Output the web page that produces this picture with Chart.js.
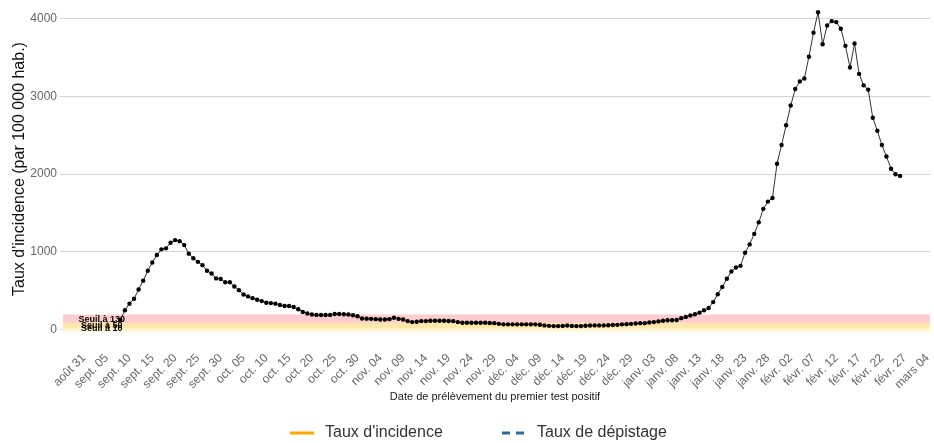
<!DOCTYPE html>
<html>
<head>
<meta charset="utf-8">
<script src="https://cdn.jsdelivr.net/npm/chart.js@4.4.1/dist/chart.umd.min.js"></script>
<style>
  body { margin: 0; background: #fff; }
  canvas { display: block; }
</style>
</head>
<body>
<canvas id="chart-1" width="934" height="443"></canvas>
<script>
// x axis: days counted from 31 Aug 2020, one tick every 5 days
const tickLabels = ['août 31', 'sept. 05', 'sept. 10', 'sept. 15', 'sept. 20', 'sept. 25', 'sept. 30',
    'oct. 05', 'oct. 10', 'oct. 15', 'oct. 20', 'oct. 25', 'oct. 30',
    'nov. 04', 'nov. 09', 'nov. 14', 'nov. 19', 'nov. 24', 'nov. 29',
    'déc. 04', 'déc. 09', 'déc. 14', 'déc. 19', 'déc. 24', 'déc. 29',
    'janv. 03', 'janv. 08', 'janv. 13', 'janv. 18', 'janv. 23', 'janv. 28',
    'févr. 02', 'févr. 07', 'févr. 12', 'févr. 17', 'févr. 22', 'févr. 27', 'mars 04'];
const tickStep = 5;
const yTicks = [0, 1000, 2000, 3000, 4000];

// first value is 8 sept (day 8), then one value per day up to 26 feb
const firstDay = 8;
const incidence = [
    120, 245, 331, 394, 513, 627, 754, 860, 958, 1030,
    1043, 1115, 1149, 1136, 1085, 975, 916, 869, 827, 754,
    720, 656, 649, 606, 606, 551, 505, 449, 424, 402,
    382, 364, 343, 338, 331, 313, 300, 300, 288, 258,
    224, 204, 191, 186, 184, 184, 186, 198, 198, 195,
    191, 182, 169, 140, 138, 135, 131, 127, 127, 131,
    150, 135, 127, 106, 93, 97, 106, 106, 110, 110,
    110, 110, 108, 106, 93, 84, 84, 84, 84, 84,
    84, 82, 80, 71, 64, 64, 64, 64, 64, 64,
    64, 64, 60, 51, 45, 42, 42, 44, 50, 44,
    42, 42, 46, 50, 51, 51, 51, 53, 55, 58,
    64, 67, 71, 76, 80, 80, 88, 93, 102, 110,
    118, 118, 120, 144, 160, 178, 195, 215, 245, 275,
    351, 452, 545, 652, 745, 797, 818, 987, 1094, 1229,
    1378, 1552, 1645, 1692, 2132, 2374, 2629, 2883, 3095, 3193,
    3231, 3511, 3821, 4084, 3672, 3913, 3969, 3957, 3871, 3651,
    3372, 3681, 3290, 3142, 3087, 2726, 2557, 2374, 2226, 2069,
    1997, 1976
];

// threshold bands (low / high) and their labels
const bandLow = [90, 78, 10, -30];
const bandHigh = [190, 90, 78, 10];
const bandColors = ['#ffcdcd', '#ffc6a9', '#ffe9a8', '#fff8d2'];
const seuils = [130, 50, 10];

const xMin = -5.24, xMax = 185.55;
const bandStart = -4.6;
const font = "'Liberation Sans', Arial, sans-serif";

const bandSets = bandLow.map((lo, i) => ({
    data: [{x: bandStart, y: bandHigh[i]}, {x: xMax, y: bandHigh[i]}],
    fill: {value: lo},
    backgroundColor: bandColors[i],
    borderWidth: 0,
    pointRadius: 0,
    order: 5 + i
}));

const seuilLabels = {
    id: 'seuilLabels',
    afterDatasetsDraw(chart) {
        const {ctx, scales} = chart;
        ctx.save();
        ctx.font = 'bold 9px ' + font;
        ctx.fillStyle = '#000';
        ctx.textAlign = 'center';
        ctx.textBaseline = 'middle';
        seuils.forEach(s => {
            ctx.fillText('Seuil à ' + s, scales.x.getPixelForValue(3.9), scales.y.getPixelForValue(s));
        });
        ctx.restore();
    }
};

const bottomLegend = {
    id: 'bottomLegend',
    afterDraw(chart) {
        const ctx = chart.ctx;
        const y = 433;
        ctx.save();
        ctx.lineWidth = 3;
        ctx.strokeStyle = '#ffa500';
        ctx.beginPath(); ctx.moveTo(290, y); ctx.lineTo(314, y); ctx.stroke();
        ctx.strokeStyle = '#2b6a99';
        ctx.setLineDash([8, 6]);
        ctx.beginPath(); ctx.moveTo(502, y); ctx.lineTo(525, y); ctx.stroke();
        ctx.setLineDash([]);
        ctx.font = '16px ' + font;
        ctx.fillStyle = '#333';
        ctx.textBaseline = 'middle';
        ctx.fillText("Taux d'incidence", 325, y);
        ctx.fillText('Taux de dépistage', 537, y);
        ctx.restore();
    }
};

const ctx = document.getElementById('chart-1').getContext('2d');
const chart_1 = new Chart(ctx, {
    type: 'line',
    data: {
        datasets: [
            {
                label: "Taux d'incidence",
                data: incidence.map((v, i) => ({x: firstDay + i, y: v})),
                borderColor: '#333',
                borderWidth: 1,
                pointRadius: 2.2,
                pointBackgroundColor: '#000',
                pointBorderWidth: 0,
                order: 0
            },
            ...bandSets
        ]
    },
    options: {
        responsive: false,
        animation: false,
        layout: { padding: { left: 0, right: 0, top: 0, bottom: 30 } },
        scales: {
            x: {
                type: 'linear',
                min: xMin,
                max: xMax,
                afterBuildTicks: scale => {
                    scale.ticks = tickLabels.map((t, i) => ({value: i * tickStep}));
                },
                afterFit: scale => {
                    scale.height = 79;
                    scale.paddingLeft = 0;
                    scale.paddingRight = 0;
                },
                grid: { display: false, drawTicks: false },
                border: { display: false },
                ticks: {
                    autoSkip: false,
                    minRotation: 45,
                    maxRotation: 45,
                    padding: 17,
                    color: '#666',
                    font: { size: 12, family: font },
                    callback: (v, i) => tickLabels[i]
                },
                title: {
                    display: true,
                    text: 'Date de prélèvement du premier test positif',
                    color: '#222',
                    font: { size: 11, family: font },
                    padding: { top: 0, bottom: 9 }
                }
            },
            y: {
                min: -60,
                max: 4190,
                afterBuildTicks: scale => {
                    scale.ticks = yTicks.map(v => ({value: v}));
                },
                afterFit: scale => {
                    scale.width = 60;
                    scale.paddingTop = 0;
                    scale.paddingBottom = 0;
                },
                grid: { color: '#d6d6d6', lineWidth: 1, drawTicks: false },
                border: { display: false },
                ticks: {
                    padding: 3,
                    color: '#666',
                    font: { size: 12, family: font },
                    callback: v => String(v)
                },
                title: {
                    display: true,
                    text: "Taux d'incidence (par 100 000 hab.)",
                    color: '#111',
                    font: { size: 16, family: font },
                    padding: { top: 10, bottom: 0 }
                }
            }
        },
        plugins: {
            legend: { display: false },
            tooltip: { enabled: false }
        }
    },
    plugins: [seuilLabels, bottomLegend]
});
</script>
</body>
</html>
